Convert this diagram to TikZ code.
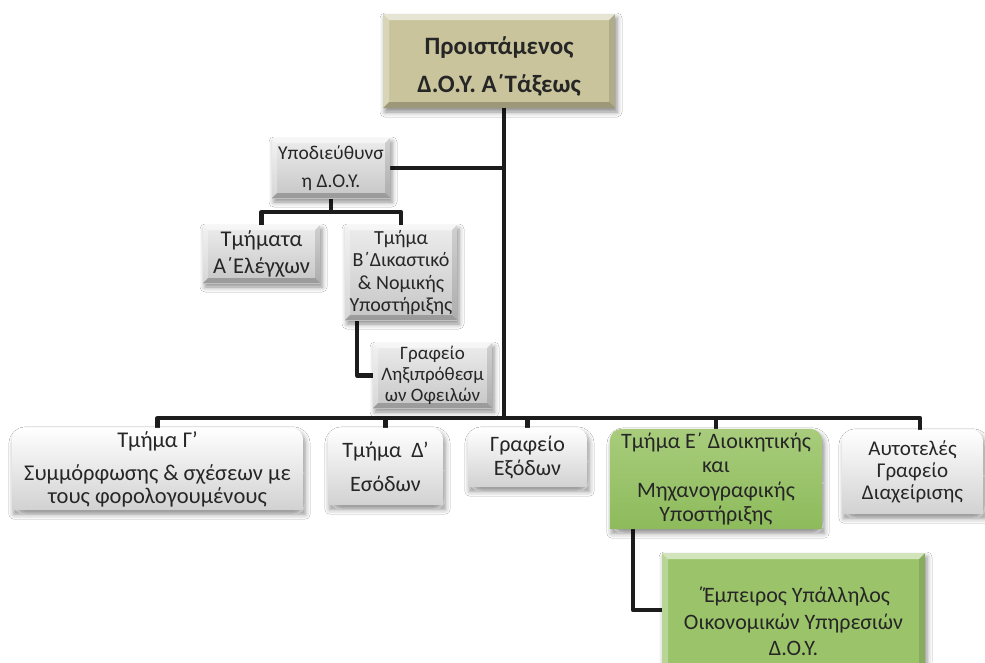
\documentclass[tikz,border=0pt]{standalone}
\usepackage{fontspec}
\setmainfont{Carlito}
\usetikzlibrary{shadows.blur}
\pgfdeclarelayer{background}
\pgfsetlayers{background,main}
\definecolor{khaki}{HTML}{C9C49C}
\definecolor{grayT}{HTML}{EDEDED}
\definecolor{grayB}{HTML}{C6C6C6}
\definecolor{greenT}{HTML}{A8CC7C}
\definecolor{greenB}{HTML}{8DBB5B}
\definecolor{greenM}{HTML}{9BC46A}
\definecolor{txt}{HTML}{262626}
\definecolor{conncol}{HTML}{1C1C1C}
\newcommand\fs[2]{\fontsize{#1}{#2}\selectfont}
\tikzset{
  bevelpic/.style={path picture={
    \path (path picture bounding box.north west) coordinate (bnw)
          (path picture bounding box.north east) coordinate (bne)
          (path picture bounding box.south east) coordinate (bse)
          (path picture bounding box.south west) coordinate (bsw);
    \fill[white,opacity=0.55] (bnw) -- (bne) -- ([shift={(-#1,-#1)}]bne) -- ([shift={(#1,-#1)}]bnw) -- cycle;
    \fill[white,opacity=0.30] (bnw) -- (bsw) -- ([shift={(#1,#1)}]bsw) -- ([shift={(#1,-#1)}]bnw) -- cycle;
    \fill[black,opacity=0.22] (bsw) -- (bse) -- ([shift={(-#1,#1)}]bse) -- ([shift={(#1,#1)}]bsw) -- cycle;
    \fill[black,opacity=0.12] (bne) -- (bse) -- ([shift={(-#1,#1)}]bse) -- ([shift={(-#1,-#1)}]bne) -- cycle;
  }},
  shad/.style={blur shadow={shadow xshift=2pt, shadow yshift=-4pt, shadow blur radius=5pt, shadow opacity=45}},
  graybox/.style={rectangle, inner sep=0pt, align=center, text=txt, top color=grayT, bottom color=grayB, shad, bevelpic=5pt},
  khakibox/.style={rectangle, inner sep=0pt, align=center, text=txt, fill=khaki, shad, bevelpic=6pt},
  greenbox/.style={rectangle, inner sep=0pt, align=center, text=txt, fill=greenM, shad, bevelpic=6pt},
  plainnode/.style={rectangle, inner sep=0pt, align=center, text=txt},
  whitefill/.style={top color=white, bottom color=grayB!80, shad},
  greenfill/.style={top color=greenT, bottom color=greenB, shad},
  conn/.style={draw=conncol, line width=4.2pt, line join=round},
}
% box with rounded top corners: union of a rounded rectangle and a square-cornered lower half
\newcommand\tprbox[2]{%
  \path[#2] [rounded corners=12pt] (#1.north west) rectangle (#1.south east)
    [sharp corners] (#1.west) rectangle (#1.south east);}
\begin{document}
\begin{tikzpicture}[x=1pt,y=-1pt]
\useasboundingbox (0,0) rectangle (985,662);
% top-level
\node[khakibox, minimum width=232pt, minimum height=94pt] (top) at (499,61) {};
\node[plainnode, font=\fs{25}{30}\bfseries, anchor=center] (topT) at (499,66)
  {Προιστάμενος\\[8pt]Δ.Ο.Υ. Α΄Τάξεως};
\node[graybox, minimum width=118pt, minimum height=60pt, font=\fs{19.5}{28}] (sub) at (331,168)
  {Υποδιεύθυνσ\\η Δ.Ο.Υ.};
\node[graybox, minimum width=117pt, minimum height=58pt, font=\fs{22.5}{27}] (tmA) at (261.5,254)
  {\rule{0pt}{8pt}Τμήματα\\Α΄Ελέγχων};
\node[graybox, minimum width=112pt, minimum height=95pt, font=\fs{20}{22.5}] (tmB) at (401,272.5)
  {Τμήμα\\Β΄Δικαστικό\\\& Νομικής\\Υποστήριξης};
\node[graybox, minimum width=119pt, minimum height=65pt, font=\fs{19}{21}] (lex) at (432.5,375.5)
  {Γραφείο\\Ληξιπρόθεσμ\\ων Οφειλών};
% bottom row
\node[plainnode, minimum width=291pt, minimum height=82pt, font=\fs{22.5}{23}] (gam) at (157.5,469)
  {Τμήμα Γ’\\[10pt]Συμμόρφωσης \& σχέσεων με\\τους φορολογουμένους};
\node[plainnode, minimum width=115pt, minimum height=77pt, font=\fs{22}{24}] (del) at (385.5,466.5)
  {Τμήμα\ \ Δ’\\[10pt]Εσόδων};
\node[plainnode, minimum width=119pt, minimum height=59pt, font=\fs{22}{24}] (exo) at (527.5,457.5)
  {Γραφείο\\Εξόδων};
\node[plainnode, minimum width=212pt, minimum height=100pt, font=\fs{22}{24.5}] (tmE) at (716,479)
  {Τμήμα Ε΄ Διοικητικής\\και\\Μηχανογραφικής\\Υποστήριξης};
\node[plainnode, minimum width=141pt, minimum height=84pt, font=\fs{21}{22}] (aut) at (912.5,472)
  {Αυτοτελές\\Γραφείο\\Διαχείρισης};
\node[greenbox, minimum width=263pt, minimum height=137pt, font=\fs{22}{26.5}] (emp) at (793.5,621.5)
  {΄Έμπειρος Υπάλληλος\\Οικονομικών Υπηρεσιών\\Δ.Ο.Υ.};
% junction coordinates
\coordinate (bus) at (504,418);
\coordinate (busR) at (920,418);
\coordinate (sj) at (331,212);
\coordinate (bx) at (357,0);
\coordinate (ex) at (633,0);
\coordinate (ey) at (0,610);
\begin{pgfonlayer}{background}
  \fill[white] (0,0) rectangle (985,662);
  % connectors
  \draw[conn] (top.south -| bus) -- (bus);
  \draw[conn] (sub.east) -- (sub.east -| bus);
  \draw[conn] (sub.south) -- (sj);
  \draw[conn] (tmA.north) -- (tmA.north |- sj) -- (tmB.north |- sj) -- (tmB.north);
  \draw[conn] (tmB.south -| bx) |- (lex.west);
  \draw[conn] (gam.north) -- (gam.north |- bus) -- (busR) -- (aut.north -| busR);
  \draw[conn] (del.north) -- (del.north |- bus);
  \draw[conn] (exo.north) -- (exo.north |- bus);
  \draw[conn] (tmE.north) -- (tmE.north |- bus);
  \draw[conn] (tmE.south -| ex) |- (emp.west |- ey);
  % rounded-top boxes
  \tprbox{gam}{whitefill}
  \tprbox{del}{whitefill}
  \tprbox{exo}{whitefill}
  \tprbox{aut}{whitefill}
  \tprbox{tmE}{greenfill}
\end{pgfonlayer}
\end{tikzpicture}
\end{document}
